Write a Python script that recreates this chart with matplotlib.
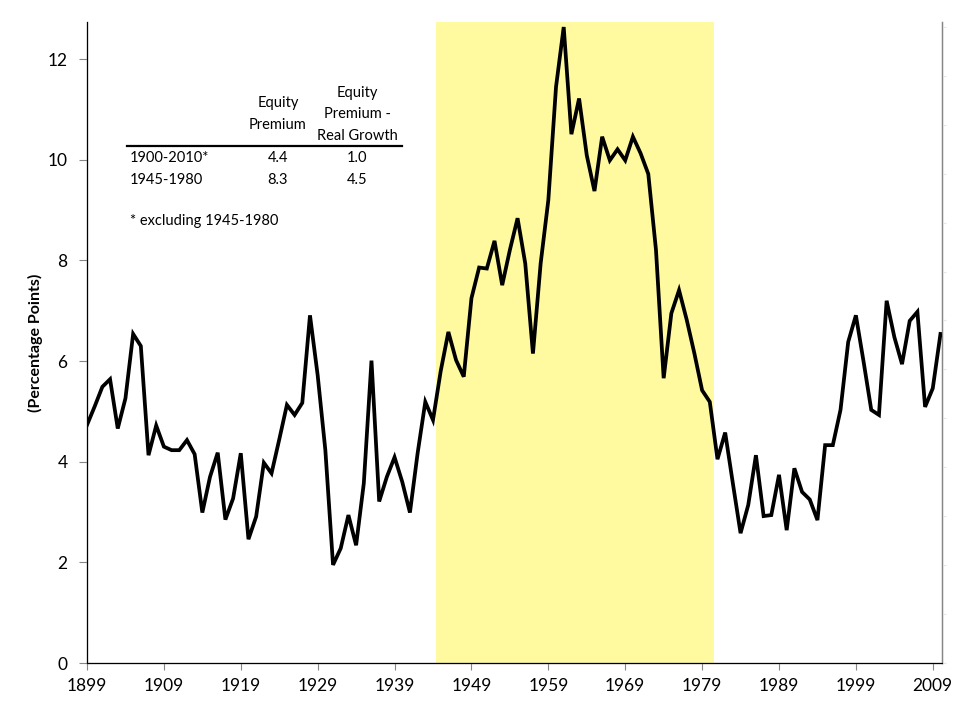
import numpy as np
import matplotlib
matplotlib.use('Agg')
import matplotlib.pyplot as plt

plt.rcParams['font.family'] = ['Lato', 'DejaVu Sans']

years = np.arange(1899, 2011)
premium = [
    4.73, 5.10, 5.49, 5.64, 4.66, 5.26, 6.54, 6.30, 4.13, 4.72,
    4.30, 4.23, 4.23, 4.43, 4.15, 2.99, 3.70, 4.18, 2.85, 3.27,
    4.17, 2.46, 2.91, 3.98, 3.77, 4.44, 5.13, 4.93, 5.17, 6.91,
    5.72, 4.23, 1.95, 2.28, 2.94, 2.34, 3.57, 6.01, 3.21, 3.70,
    4.09, 3.60, 2.99, 4.17, 5.19, 4.83, 5.80, 6.58, 6.02, 5.69,
    7.25, 7.86, 7.84, 8.39, 7.51, 8.21, 8.84, 7.94, 6.15, 7.94,
    9.20, 11.45, 12.64, 10.51, 11.22, 10.09, 9.38, 10.46, 9.99, 10.21,
    9.99, 10.46, 10.13, 9.72, 8.21, 5.66, 6.95, 7.41, 6.82, 6.15,
    5.42, 5.19, 4.05, 4.58, 3.57, 2.58, 3.14, 4.13, 2.92, 2.94,
    3.74, 2.64, 3.87, 3.40, 3.25, 2.84, 4.33, 4.33, 5.03, 6.38,
    6.91, 5.99, 5.03, 4.93, 7.20, 6.48, 5.94, 6.80, 6.98, 5.09,
    5.46, 6.54,
]
period_start, period_end = 1944.45, 1980.5

row_labels = ['1900-2010*', '1945-1980']
eq_premium = ['4.4', '8.3']
eq_minus_growth = ['1.0', '4.5']

fig = plt.figure(figsize=(9.64, 7.02), dpi=100)
ax = fig.add_axes([87 / 964, 39 / 702, 855 / 964, 641 / 702])

ax.axvspan(period_start, period_end, color='#fffa9f', lw=0, zorder=0)
ax.plot(years, premium, color='black', lw=2.7, solid_joinstyle='miter', zorder=3)

ax.set_xlim(1899, 2010.2)
ax.set_ylim(0, 12.74)
ax.set_xticks(np.arange(1899, 2010, 10))
ax.set_yticks(np.arange(0, 13, 2))
ax.tick_params(axis='x', labelsize=12.5, length=5, color='#868686', pad=6)
ax.tick_params(axis='y', labelsize=12.5, length=6, color='#868686', pad=8)
for side in ['left', 'bottom', 'right']:
    ax.spines[side].set_color('#868686')
    ax.spines[side].set_linewidth(1.0)
ax.spines['top'].set_visible(False)
ax.set_ylabel('(Percentage Points)', fontsize=11.5, fontweight='bold', labelpad=3)

# faint ticks on the right spine (empty secondary axis)
ax2 = ax.twinx()
ax2.set_ylim(0, 13.1)
ax2.set_yticks(np.arange(0, 13.1, 1))
ax2.tick_params(axis='y', length=3, color='#e6e6e6', labelright=False)
ax2.spines['top'].set_visible(False)
ax2.spines['right'].set_color('#868686')

# summary table in the upper left
fs = 10.5
tr = ax.transAxes
def fx(px):
    return (px - 87) / 855
def fy(py):
    return (663 - py) / 641

ax.text(fx(278), fy(103), 'Equity', transform=tr, ha='center', va='center', fontsize=fs)
ax.text(fx(278), fy(125), 'Premium', transform=tr, ha='center', va='center', fontsize=fs)
ax.text(fx(357), fy(93), 'Equity', transform=tr, ha='center', va='center', fontsize=fs)
ax.text(fx(357), fy(114), 'Premium -', transform=tr, ha='center', va='center', fontsize=fs)
ax.text(fx(357), fy(136), 'Real Growth', transform=tr, ha='center', va='center', fontsize=fs)
ax.plot([fx(127), fx(402)], [fy(146), fy(146)], transform=tr, color='black', lw=1.6,
        clip_on=False)
for i, lab in enumerate(row_labels):
    y = fy(158 + 22 * i)
    ax.text(fx(130), y, lab, transform=tr, ha='left', va='center', fontsize=fs)
    ax.text(fx(278), y, eq_premium[i], transform=tr, ha='center', va='center', fontsize=fs)
    ax.text(fx(357), y, eq_minus_growth[i], transform=tr, ha='center', va='center', fontsize=fs)
ax.text(fx(130), fy(221), '* excluding 1945-1980', transform=tr, ha='left', va='center',
        fontsize=fs)

fig.savefig('out.png', dpi=100)
